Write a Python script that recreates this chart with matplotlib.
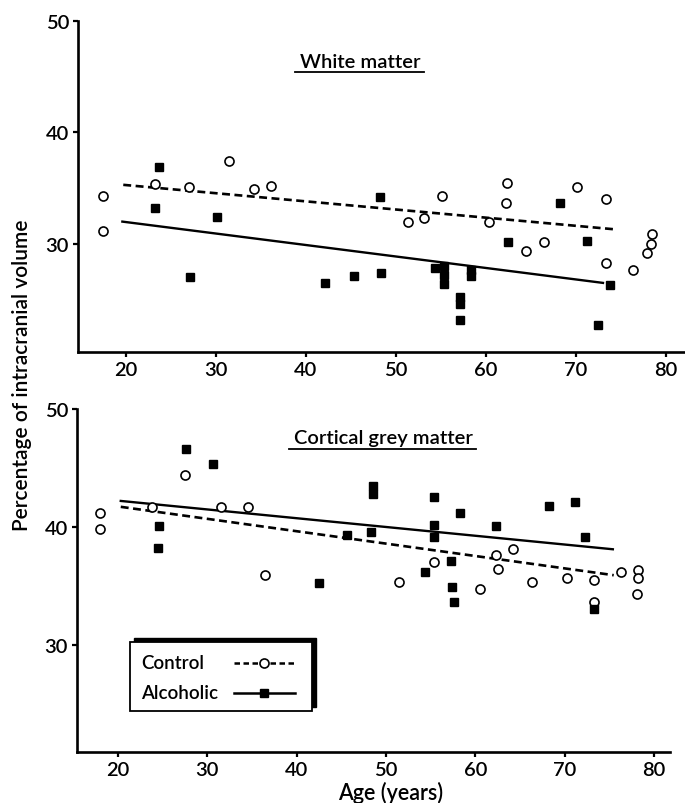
import matplotlib
matplotlib.use('Agg')
import matplotlib.pyplot as plt
from matplotlib.lines import Line2D
from matplotlib.patches import Rectangle

plt.rcParams['font.family'] = ['Lato', 'DejaVu Sans']
plt.rcParams['font.weight'] = 'semibold'

# White matter, control subjects
wm_ctrl_age = [17.4, 17.4, 23.2, 27.0, 31.5, 34.2, 36.1, 51.3, 53.1, 55.1, 60.3,
               62.3, 62.2, 64.4, 66.4, 70.1, 73.3, 73.3, 76.3, 77.9, 78.3, 78.4]
wm_ctrl_pct = [34.3, 31.2, 35.4, 35.1, 37.4, 34.9, 35.2, 32.0, 32.3, 34.3, 32.0,
               35.5, 33.7, 29.4, 30.2, 35.1, 34.0, 28.3, 27.7, 29.2, 30.0, 30.9]
# White matter, alcoholic subjects
wm_alc_age = [23.7, 23.2, 27.1, 30.1, 42.1, 45.3, 48.3, 48.2, 54.3, 55.3, 55.3,
              55.3, 57.1, 57.1, 57.1, 58.3, 58.3, 62.4, 68.2, 71.2, 72.4, 73.8]
wm_alc_pct = [36.9, 33.2, 27.0, 32.4, 26.5, 27.1, 27.4, 34.2, 27.8, 28.0, 27.2,
              26.4, 25.2, 24.6, 23.2, 27.7, 27.1, 30.2, 33.7, 30.3, 22.7, 26.3]
wm_ctrl_fit_age = [19.7, 74.4]
wm_ctrl_fit = [35.3, 31.3]
wm_alc_fit_age = [19.6, 73.0]
wm_alc_fit = [32.0, 26.5]

# Cortical grey matter, control subjects
gm_ctrl_age = [18.0, 18.0, 23.8, 27.5, 31.5, 34.5, 36.5, 51.5, 55.4, 60.5, 62.3,
               62.5, 64.2, 66.4, 70.3, 73.3, 73.3, 76.3, 78.2, 78.2, 78.1]
gm_ctrl_pct = [41.2, 39.8, 41.7, 44.4, 41.7, 41.7, 35.9, 35.3, 37.0, 34.7, 37.6,
               36.4, 38.1, 35.3, 35.7, 35.5, 33.6, 36.2, 36.3, 35.7, 34.3]
# Cortical grey matter, alcoholic subjects
gm_alc_age = [27.6, 30.6, 24.6, 24.5, 42.5, 45.6, 48.5, 48.5, 48.3, 55.4, 55.4,
              55.4, 54.4, 57.3, 57.4, 57.6, 58.3, 62.3, 68.2, 71.2, 72.3, 73.3]
gm_alc_pct = [46.6, 45.3, 40.1, 38.2, 35.2, 39.3, 43.5, 42.8, 39.6, 42.5, 40.2,
              39.1, 36.2, 37.1, 34.9, 33.6, 41.2, 40.1, 41.8, 42.1, 39.1, 33.0]
gm_ctrl_fit_age = [20.3, 75.5]
gm_ctrl_fit = [41.7, 35.9]
gm_alc_fit_age = [20.3, 75.4]
gm_alc_fit = [42.2, 38.1]

x_ticks = [20, 30, 40, 50, 60, 70, 80]
y_ticks = [30, 40, 50]
legend_labels = ['Control', 'Alcoholic']

W, H = 685, 804
fig = plt.figure(figsize=(W / 100, H / 100), dpi=100)

CTRL = dict(marker='o', markersize=6.5, markerfacecolor='white',
            markeredgecolor='black', markeredgewidth=1.2)
ALC = dict(marker='s', markersize=6.2, markerfacecolor='black', markeredgecolor='black')


def fx(px):
    return px / W


def fy(py):
    return 1 - py / H


def px_axes(left, right, top, bottom):
    return fig.add_axes([fx(left), fy(bottom), (right - left) / W, (bottom - top) / H])


def style(ax, xlim, ylim):
    ax.set_xlim(*xlim)
    ax.set_ylim(*ylim)
    ax.set_xticks(x_ticks)
    ax.set_yticks(y_ticks)
    for s in ['top', 'right']:
        ax.spines[s].set_visible(False)
    for s in ['left', 'bottom']:
        ax.spines[s].set_linewidth(1.9)
    ax.tick_params(direction='out', length=3.5, width=1.6, labelsize=14.5, pad=3)


def draw(ax, ca, cp, aa, ap, cfa, cf, afa, af):
    ax.plot(cfa, cf, color='black', linestyle=(0, (3.0, 1.7)), linewidth=1.9)
    ax.plot(afa, af, color='black', linestyle='-', linewidth=1.7)
    ax.plot(ca, cp, linestyle='none', **CTRL)
    ax.plot(aa, ap, linestyle='none', **ALC)


def underline(txt):
    fig.canvas.draw()
    bb = txt.get_window_extent()
    inv = fig.transFigure.inverted()
    (x0, y0), (x1, y1) = inv.transform([[bb.x0 - 5, bb.y0 - 2], [bb.x1 + 4, bb.y0 - 2]])
    fig.add_artist(Line2D([x0, x1], [y0, y1], color='black', linewidth=1.3,
                          transform=fig.transFigure))


ax1 = px_axes(78, 684, 22, 353)
style(ax1, (14.67, 82.0), (20.3, 50))
draw(ax1, wm_ctrl_age, wm_ctrl_pct, wm_alc_age, wm_alc_pct,
     wm_ctrl_fit_age, wm_ctrl_fit, wm_alc_fit_age, wm_alc_fit)
t1 = fig.text(fx(360), fy(62), 'White matter', ha='center', va='center', fontsize=14.5)

ax2 = px_axes(77, 670, 410, 753)
style(ax2, (15.4, 81.8), (20.9, 50))
draw(ax2, gm_ctrl_age, gm_ctrl_pct, gm_alc_age, gm_alc_pct,
     gm_ctrl_fit_age, gm_ctrl_fit, gm_alc_fit_age, gm_alc_fit)
t2 = fig.text(fx(383), fy(439), 'Cortical grey matter', ha='center', va='center', fontsize=14.5)

# legend box with a shadow offset up and to the right, labels left-aligned
bx0, by0, bx1, by1 = 130, 643, 312, 712
fig.add_artist(Rectangle((fx(bx0 + 4), fy(by1 - 4)), (bx1 - bx0) / W, (by1 - by0) / H,
                         transform=fig.transFigure, facecolor='black', edgecolor='black'))
fig.add_artist(Rectangle((fx(bx0), fy(by1)), (bx1 - bx0) / W, (by1 - by0) / H,
                         transform=fig.transFigure, facecolor='white', edgecolor='black',
                         linewidth=1.3))
rows = [(664, (0, (2.2, 1.4)), CTRL), (694, '-', ALC)]
for label, (row_y, ls, mk) in zip(legend_labels, rows):
    fig.text(fx(141), fy(row_y), label, ha='left', va='center', fontsize=13.5)
    fig.add_artist(Line2D([fx(234), fx(295)], [fy(row_y), fy(row_y)], color='black',
                          linestyle=ls, linewidth=1.8, transform=fig.transFigure))
    fig.add_artist(Line2D([fx(264)], [fy(row_y)], linestyle='none',
                          transform=fig.transFigure, **mk))

fig.text(fx(22), fy(375), 'Percentage of intracranial volume', rotation=90,
         ha='center', va='center', fontsize=15)
fig.text(fx(391), fy(793), 'Age (years)', ha='center', va='center', fontsize=15.5)

underline(t1)
underline(t2)

fig.savefig('out.png', dpi=100)
